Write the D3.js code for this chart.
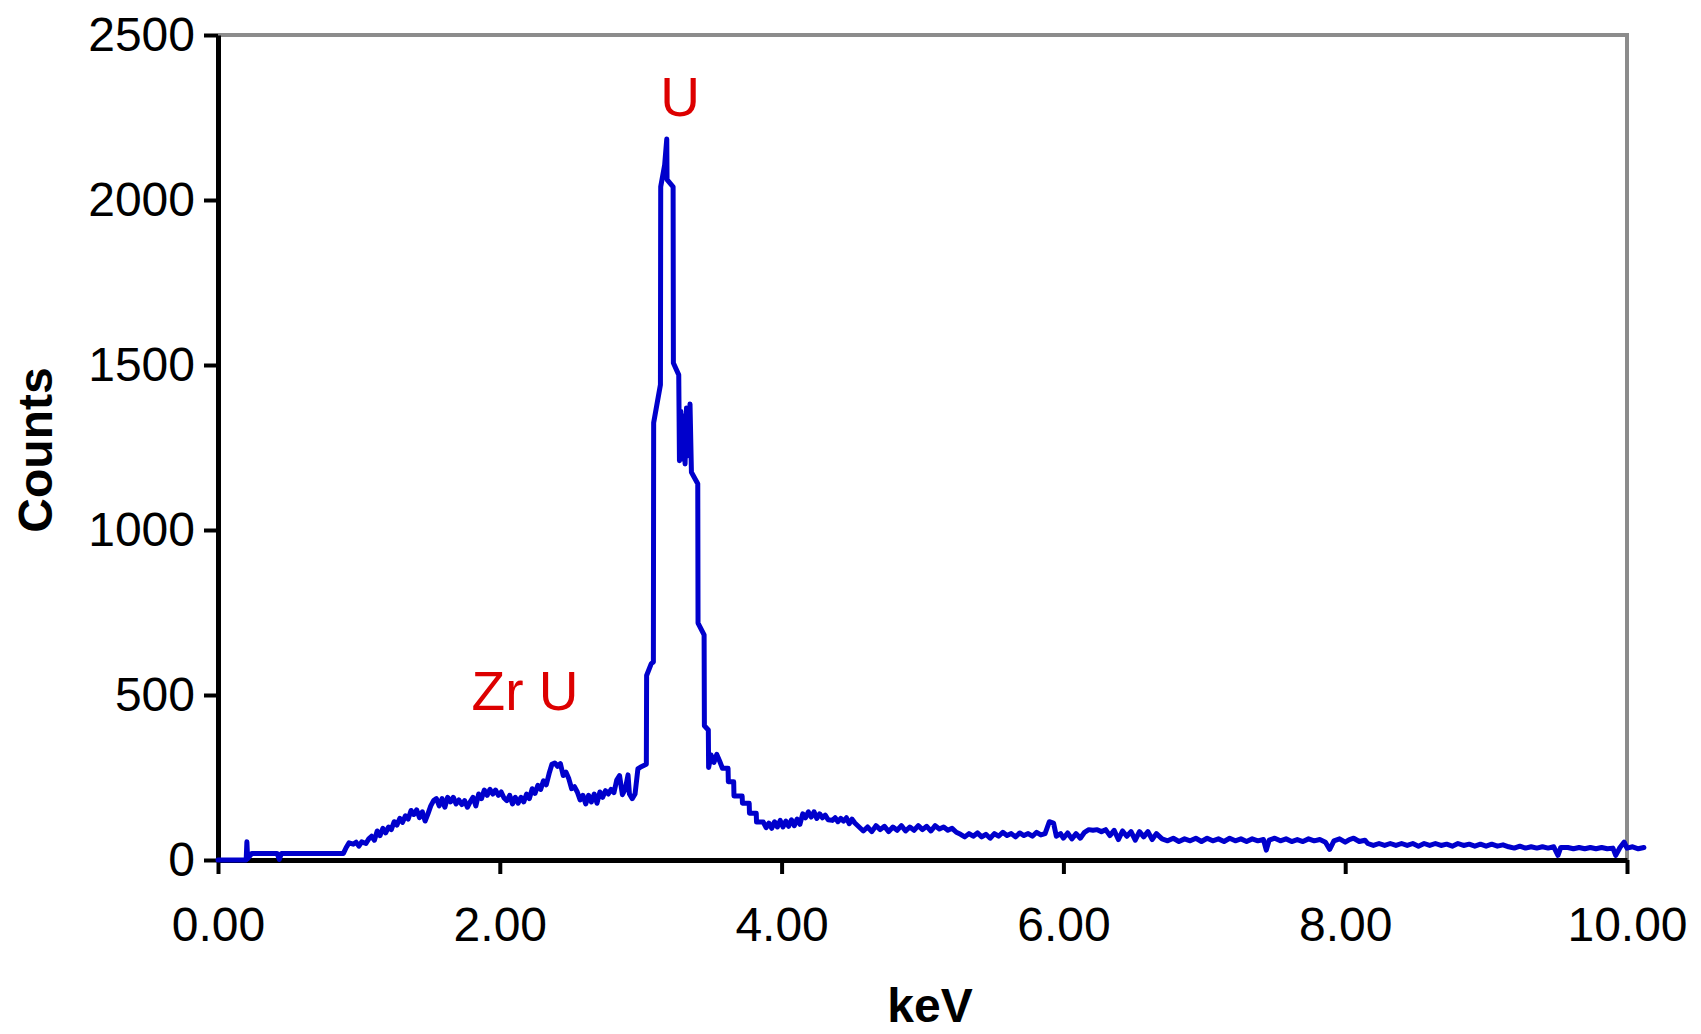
<!DOCTYPE html>
<html>
<head>
<meta charset="utf-8">
<script src="https://cdn.jsdelivr.net/npm/d3@7"></script>
<style>
  html, body { margin: 0; padding: 0; background: #ffffff; }
  svg { display: block; }
  text { font-family: "Liberation Sans", Arial, sans-serif; }
</style>
</head>
<body>
<svg id="chart" width="1701" height="1034"></svg>
<script>
// ---- Data ----
const energyKeV = [
  0, 0.20, 0.205, 0.21, 0.24, 0.42, 0.435, 0.45, 0.89,
  0.91, 0.93, 0.96, 0.98, 1.00, 1.02, 1.05, 1.07, 1.09, 1.11, 1.13, 1.15, 1.17, 1.19, 1.21, 1.23, 1.25, 1.27, 1.29, 1.31, 1.33, 1.35, 1.37, 1.39, 1.41, 1.43, 1.45, 1.47, 1.49,
  1.51, 1.53, 1.55, 1.57, 1.59, 1.61, 1.63, 1.65, 1.67, 1.69, 1.71, 1.73, 1.75, 1.77, 1.79, 1.81, 1.83, 1.85, 1.87, 1.89, 1.91, 1.93, 1.95, 1.97, 1.99,
  2.01, 2.03, 2.05, 2.07, 2.09, 2.11, 2.13, 2.15, 2.17, 2.19, 2.21, 2.23, 2.25, 2.27, 2.29, 2.31, 2.33, 2.35, 2.37, 2.39, 2.41, 2.43, 2.45, 2.47, 2.49,
  2.51, 2.53, 2.55, 2.57, 2.59, 2.61, 2.63, 2.65, 2.67, 2.69, 2.71, 2.73, 2.75, 2.77, 2.79, 2.81, 2.83, 2.85, 2.87, 2.89, 2.91, 2.92, 2.94, 2.96, 2.98, 3.00,
  3.04, 3.042, 3.075, 3.09, 3.092, 3.14, 3.142, 3.17, 3.185, 3.187, 3.23, 3.232, 3.27, 3.275, 3.285, 3.295, 3.305, 3.315, 3.325, 3.335, 3.35, 3.36, 3.405,
  3.407, 3.45, 3.452, 3.48, 3.482, 3.50, 3.52, 3.54, 3.56, 3.58, 3.62, 3.622, 3.66, 3.662, 3.72, 3.722, 3.77, 3.772, 3.82, 3.822, 3.87,
  3.89, 3.91, 3.93, 3.95, 3.97, 3.99, 4.01, 4.03, 4.05, 4.07, 4.09, 4.11, 4.13, 4.15,
  4.17, 4.19, 4.21, 4.23, 4.25, 4.27, 4.29, 4.31, 4.33,
  4.36, 4.38, 4.40, 4.42, 4.44, 4.46, 4.48, 4.50, 4.52,
  4.55, 4.58, 4.61, 4.64, 4.67, 4.70, 4.73, 4.76, 4.79, 4.82, 4.85, 4.88, 4.91, 4.94, 4.97, 5.00, 5.03, 5.06, 5.09, 5.12, 5.15, 5.18, 5.21, 5.24,
  5.27, 5.30, 5.33, 5.36, 5.39, 5.42, 5.45, 5.48, 5.51, 5.54, 5.57, 5.60, 5.63, 5.66, 5.69, 5.72, 5.75, 5.78, 5.81, 5.84, 5.87, 5.90, 5.93, 5.95,
  5.98, 6.00, 6.03, 6.06, 6.09, 6.12, 6.15,
  6.18, 6.21, 6.24, 6.27, 6.30, 6.33, 6.36, 6.39,
  6.42, 6.45, 6.48, 6.51, 6.54, 6.57, 6.60, 6.63, 6.66,
  6.70, 6.74, 6.78, 6.82, 6.86, 6.90, 6.94, 6.98, 7.02, 7.06, 7.10, 7.14, 7.18, 7.22, 7.26, 7.30, 7.34, 7.38, 7.42, 7.44, 7.46,
  7.50, 7.54, 7.58, 7.62, 7.66, 7.70, 7.74, 7.78, 7.82, 7.86, 7.89, 7.92, 7.96, 8.00, 8.03, 8.06, 8.10, 8.14,
  8.16, 8.20, 8.24, 8.28, 8.32, 8.36, 8.40, 8.44, 8.48, 8.52, 8.56, 8.60, 8.64, 8.68, 8.72, 8.76, 8.80, 8.84, 8.88, 8.92, 8.96, 9.00, 9.04, 9.08, 9.12,
  9.16, 9.20, 9.24, 9.28, 9.32, 9.36, 9.40, 9.44, 9.48, 9.51, 9.53,
  9.58, 9.62, 9.66, 9.70, 9.74, 9.78, 9.82, 9.86, 9.90, 9.92, 9.95, 9.98, 10.00, 10.04, 10.08, 10.12
];
const counts = [
  0, 0, 55, 4, 20, 20, 2, 20, 20,
  38, 52, 48, 54, 42, 55, 50, 64, 72, 60, 88, 74, 96, 82, 100, 92, 116, 106, 126, 114, 134, 124, 150, 138, 152, 128, 146, 118, 140,
  164, 180, 186, 164, 186, 160, 190, 176, 190, 170, 182, 168, 180, 160, 176, 190, 164, 200, 186, 212, 196, 214, 200, 212, 196,
  206, 188, 180, 196, 170, 190, 172, 190, 176, 200, 186, 216, 202, 226, 214, 240, 228, 262, 290, 294, 284, 292, 256, 266, 246,
  216, 222, 206, 182, 196, 170, 196, 176, 200, 172, 206, 190, 210, 200, 214, 204, 242, 256, 198, 214, 258, 200, 186, 200, 276, 282,
  290, 559, 595, 600, 1325, 1440, 2040, 2106, 2185, 2062, 2040, 1506, 1470, 1210, 1360, 1215, 1345, 1200, 1370, 1225, 1382, 1175, 1140,
  718, 682, 407, 394, 280, 318, 296, 320, 300, 278, 278, 237, 237, 194, 194, 172, 172, 142, 142, 115, 115,
  98, 112, 96, 116, 100, 120, 100, 118, 102, 122, 104, 124, 108, 140,
  128, 146, 130, 146, 126, 140, 128, 136, 122,
  120, 128, 116, 126, 118, 128, 110, 124, 112,
  100, 88, 100, 86, 104, 92, 102, 86, 100, 90, 104, 88, 100, 90, 104, 92, 102, 88, 104, 94, 100, 90, 96, 84,
  78, 70, 80, 72, 82, 70, 78, 66, 80, 72, 84, 74, 80, 70, 82, 74, 80, 72, 84, 76, 80, 116, 112, 72,
  80, 66, 82, 64, 80, 66, 84,
  92, 90, 92, 86, 92, 74, 90, 62,
  88, 72, 86, 60, 86, 70, 86, 62, 80,
  64, 58, 66, 56, 64, 58, 66, 56, 66, 58, 64, 56, 66, 58, 64, 56, 64, 58, 62, 30, 60,
  66, 58, 64, 56, 62, 56, 64, 58, 62, 54, 32, 58, 64, 54, 62, 66, 56, 60,
  50, 44, 50, 44, 50, 44, 50, 44, 50, 42, 50, 44, 50, 44, 48, 42, 50, 44, 48, 42, 48, 42, 48, 42, 46,
  40, 36, 42, 36, 40, 36, 40, 36, 40, 14, 38,
  38, 34, 38, 34, 38, 34, 38, 34, 36, 14, 38, 54, 36, 40, 34, 38
];
const xTicks = [0, 2, 4, 6, 8, 10];
const yTicks = [0, 500, 1000, 1500, 2000, 2500];
const peakLabels = ["U", "Zr U"];
const peakLabelKeV = [3.28, 1.8];
const peakLabelCounts = [2255, 455];

// ---- Layout ----
const svg = d3.select("#chart");
const L = 218, R = 1627, T = 35, B = 860;
const x = d3.scaleLinear().domain([0, 10]).range([L, R]);
const y = d3.scaleLinear().domain([0, 2500]).range([B, T]);

// gray frame (top & right)
svg.append("path")
  .attr("d", `M${L},${T}H${R}V${B}`)
  .attr("fill", "none")
  .attr("stroke", "#8c8c8c")
  .attr("stroke-width", 4);

// axes
const xAxis = d3.axisBottom(x).tickValues(xTicks).tickFormat(d3.format(".2f"))
  .tickSize(14).tickSizeOuter(0).tickPadding(33);
const yAxis = d3.axisLeft(y).tickValues(yTicks).tickFormat(d3.format("d"))
  .tickSize(14).tickSizeOuter(0).tickPadding(9);

const gx = svg.append("g").attr("transform", `translate(0,${B})`).call(xAxis);
const gy = svg.append("g").attr("transform", `translate(${L},0)`).call(yAxis);

[gx, gy].forEach(g => {
  g.select(".domain").attr("stroke", "#000").attr("stroke-width", 5);
  g.selectAll(".tick line").attr("stroke", "#000").attr("stroke-width", 4);
  g.selectAll(".tick text")
    .attr("fill", "#000")
    .style("font-size", "48px")
    .style("font-family", "'Liberation Sans', Arial, sans-serif");
});

// axis titles
svg.append("text")
  .attr("x", 930).attr("y", 1022)
  .attr("text-anchor", "middle")
  .style("font-size", "48px").style("font-weight", "bold")
  .attr("fill", "#000")
  .text("keV");

svg.append("text")
  .attr("transform", "translate(52,450) rotate(-90)")
  .attr("text-anchor", "middle")
  .style("font-size", "48px").style("font-weight", "bold")
  .attr("fill", "#000")
  .text("Counts");

// spectrum line
const pts = energyKeV.map((e, i) => [e, counts[i]]);
svg.append("path")
  .datum(pts)
  .attr("fill", "none")
  .attr("stroke", "#0000cc")
  .attr("stroke-width", 5)
  .attr("stroke-linejoin", "round")
  .attr("stroke-linecap", "round")
  .attr("d", d3.line().x(d => x(d[0])).y(d => y(d[1])));

// peak labels
svg.selectAll("text.peak")
  .data(peakLabels)
  .enter().append("text")
  .attr("class", "peak")
  .attr("x", (d, i) => x(peakLabelKeV[i]))
  .attr("y", (d, i) => y(peakLabelCounts[i]))
  .attr("text-anchor", (d, i) => i === 0 ? "middle" : "start")
  .attr("fill", "#dd0000")
  .style("font-size", "55px")
  .text(d => d);
</script>
</body>
</html>
